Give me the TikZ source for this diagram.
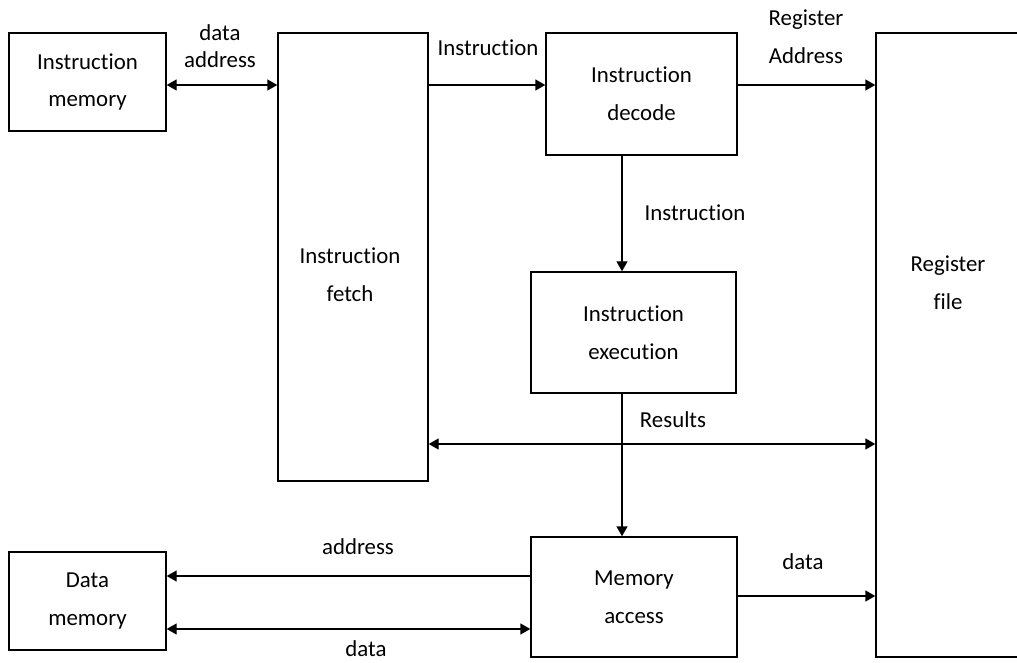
\documentclass[tikz,border=0pt]{standalone}
\usepackage{fontspec}
\setmainfont{Carlito}[Ligatures={NoCommon}]
\usetikzlibrary{arrows.meta, positioning}

\begin{document}
\begin{tikzpicture}[
    block/.style={rectangle, draw=black, line width=0.8pt, align=center, font=\fontsize{13}{21.5}\selectfont},
    lbl/.style={align=center, font=\fontsize{13}{15.5}\selectfont},
    arrow/.style={-{Triangle[length=2mm, width=2.2mm]}, line width=0.8pt},
    biarrow/.style={{Triangle[length=2mm, width=2.2mm]}-{Triangle[length=2mm, width=2.2mm]}, line width=0.8pt},
]
\useasboundingbox (0,0) rectangle (20.34,13.24);

% Blocks
\node[block, minimum width=3.14cm, minimum height=1.96cm] (imem) at (1.75, 11.6) {Instruction\\memory};
\node[block, minimum width=3cm, minimum height=8.96cm] (ifetch) at (7.06, 8.1) {};
\node[font=\fontsize{13}{21.5}\selectfont, align=center] (ifetcht) at (7.0, 7.74) {Instruction\\fetch};
\node[block, minimum width=3.82cm, minimum height=2.44cm] (idec) at (12.83, 11.36) {Instruction\\decode};
\node[block, minimum width=3cm, minimum height=12.48cm] (regf) at (19.02, 6.34) {};
\node[font=\fontsize{13}{21.5}\selectfont, align=center] (regft) at (18.96, 7.58) {Register\\file};
\node[block, minimum width=4.1cm, minimum height=2.42cm] (iexec) at (12.67, 6.59) {Instruction\\execution};
\node[block, minimum width=4.12cm, minimum height=2.4cm] (memacc) at (12.68, 1.3) {Memory\\access};
\node[block, minimum width=3.14cm, minimum height=1.96cm] (dmem) at (1.75, 1.22) {Data\\memory};

% Helper rows and column
\coordinate (topy) at (0, 11.54);
\coordinate (resy) at (0, 4.36);
\coordinate (addry) at (0, 1.72);
\coordinate (datay) at (0, 0.66);
\coordinate (outy) at (0, 1.32);
\coordinate (colx) at (12.44, 0);

% Top row
\draw[biarrow] (imem.east |- topy) -- (ifetch.west |- topy);
\draw[arrow] (ifetch.east |- topy) -- (idec.west |- topy);
\draw[arrow] (idec.east |- topy) -- (regf.west |- topy);
\node[lbl] (daddr) at (4.4, 12.32) {data\\address};
\node[lbl] (instr1) at (9.76, 12.28) {Instruction};
\node[lbl, font=\fontsize{13}{21.5}\selectfont] (raddr) at (16.12, 12.5) {Register\\Address};

% Decode to execution
\draw[arrow] (idec.south -| colx) -- (iexec.north -| colx);
\node[lbl] (instr2) at (13.9, 8.98) {Instruction};

% Results
\draw[biarrow] (ifetch.east |- resy) -- (regf.west |- resy);
\draw[arrow] (iexec.south -| colx) -- (memacc.north -| colx);
\node[lbl] (res) at (13.46, 4.84) {Results};

% Memory access
\draw[arrow] (memacc.west |- addry) -- (dmem.east |- addry);
\draw[biarrow] (dmem.east |- datay) -- (memacc.west |- datay);
\draw[arrow] (memacc.east |- outy) -- (regf.west |- outy);
\node[lbl] (addr) at (7.16, 2.3) {address};
\node[lbl] (data1) at (7.32, 0.27) {data};
\node[lbl] (data2) at (16.06, 2.0) {data};

\end{tikzpicture}
\end{document}
